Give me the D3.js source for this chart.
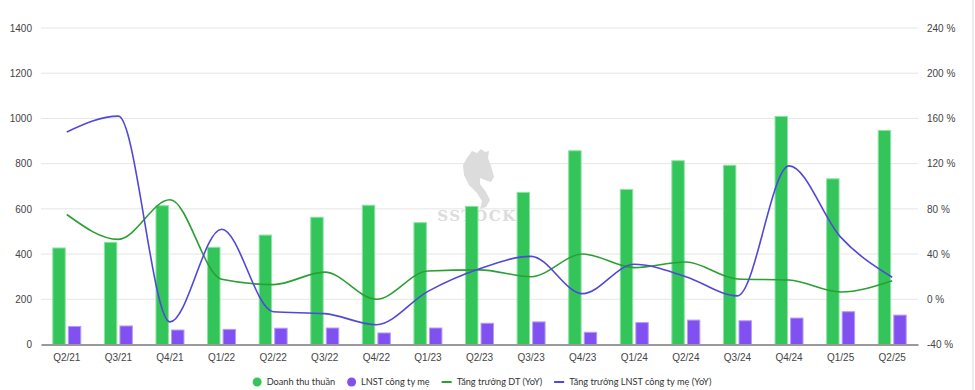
<!DOCTYPE html>
<html>
<head>
<meta charset="utf-8">
<script src="https://cdn.jsdelivr.net/npm/d3@7"></script>
<style>
  html, body { margin: 0; padding: 0; background: #fff; }
  svg { display: block; font-family: "Lato", "Noto Sans", sans-serif; }
</style>
</head>
<body>
<svg id="chart" width="975" height="390"></svg>
<script>
const categories = ["Q2/21","Q3/21","Q4/21","Q1/22","Q2/22","Q3/22","Q4/22","Q1/23","Q2/23","Q3/23","Q4/23","Q1/24","Q2/24","Q3/24","Q4/24","Q1/25","Q2/25"];
const revenue = [427, 452, 614, 430, 484, 563, 616, 539, 611, 673, 857, 686, 813, 793, 1009, 733, 947];
const profit = [80, 82, 64, 67, 72, 73, 51, 73, 94, 100, 54, 97, 108, 105, 117, 145, 130];
const revenueGrowth = [75, 53, 88, 17.7, 13, 24, 0, 25, 26, 20, 40, 28, 33, 18, 17, 6.5, 16.5];
const profitGrowth = [148, 162, -20, 62, -11, -12.7, -22.5, 7, 27, 38, 5, 31, 20, 3, 118, 55, 19.5];
const leftTicks = [0, 200, 400, 600, 800, 1000, 1200, 1400];
const rightTicks = [-40, 0, 40, 80, 120, 160, 200, 240];
const legendItems = [
  {label: "Doanh thu thuần", type: "dot", color: "#33c55a"},
  {label: "LNST công ty mẹ", type: "dot", color: "#8150f0"},
  {label: "Tăng trưởng DT (YoY)", type: "line", color: "#2a9f32"},
  {label: "Tăng trưởng LNST công ty mẹ (YoY)", type: "line", color: "#5148d8"}
];

const svg = d3.select("#chart");
const plotLeft = 41, plotRight = 918, plotTop = 28, plotBottom = 344.5;

const x0 = d3.scaleBand().domain(categories).range([plotLeft, plotRight]).paddingInner(0).paddingOuter(0);
const yL = d3.scaleLinear().domain([0, 1400]).range([plotBottom, plotTop]);
const yR = d3.scaleLinear().domain([-40, 240]).range([plotBottom, plotTop]);
const x1 = d3.scaleBand().domain(["rev", "prof"]).range([0, 28]).paddingInner(0.2);

// right border line
svg.append("line").attr("x1", 973).attr("x2", 973).attr("y1", 0).attr("y2", 390)
  .attr("stroke", "#ececf0").attr("stroke-width", 2);

// gridlines
svg.append("g").selectAll("line").data(leftTicks.filter(d => d > 0)).join("line")
  .attr("x1", plotLeft).attr("x2", plotRight)
  .attr("y1", d => yL(d)).attr("y2", d => yL(d))
  .attr("stroke", "#e6e6e6").attr("stroke-width", 1);

// left axis
const leftAxis = d3.axisLeft(yL).tickValues(leftTicks).tickSize(0).tickFormat(d3.format("d"));
const gl = svg.append("g").attr("transform", `translate(${plotLeft},0)`).call(leftAxis);
gl.select(".domain").remove();
gl.selectAll("text").attr("font-size", 10).attr("fill", "#444").attr("x", -9);

// right axis
const rightAxis = d3.axisRight(yR).tickValues(rightTicks).tickSize(0).tickFormat(d => d + " %");
const gr = svg.append("g").attr("transform", `translate(${plotRight},0)`).call(rightAxis);
gr.select(".domain").remove();
gr.selectAll("text").attr("font-size", 10).attr("fill", "#444").attr("x", 9);

// watermark
const wm = svg.append("g");
wm.append("path")
  .attr("d", "M467,158 L472,151 L477,153 L481,149 L485,152 L489,151 L488,158 L491,166 L494,177 L491,182 L485,180 L480,178 L480,184 L486,192 L490,200 L486,207 L480,209 L482,201 L477,193 L469,185 L464,175 L463,165 Z")
  .attr("fill", "#dcdcdc");
wm.append("text").attr("x", 477).attr("y", 221).attr("text-anchor", "middle")
  .attr("font-family", "'DejaVu Serif', serif").attr("font-weight", "bold")
  .attr("font-size", 15).attr("letter-spacing", 1.5).attr("fill", "#dcdcdc").text("SSTOCK");

// bars
const groups = svg.append("g").selectAll("g").data(categories).join("g")
  .attr("transform", d => `translate(${x0(d) + x0.bandwidth() / 2 - 14},0)`);
groups.append("rect")
  .attr("x", x1("rev")).attr("width", x1.bandwidth())
  .attr("y", (d, i) => yL(revenue[i])).attr("height", (d, i) => yL(0) - yL(revenue[i]))
  .attr("fill", "#33c55a").attr("stroke", "#8fe3a4").attr("stroke-width", 1);
groups.append("rect")
  .attr("x", x1("prof")).attr("width", x1.bandwidth())
  .attr("y", (d, i) => yL(profit[i])).attr("height", (d, i) => yL(0) - yL(profit[i]))
  .attr("fill", "#8150f0").attr("stroke", "#b79cf7").attr("stroke-width", 1);

// baseline axis
const bottomAxis = d3.axisBottom(x0).tickSize(0).tickPadding(9);
const gb = svg.append("g").attr("transform", `translate(0,${plotBottom})`).call(bottomAxis);
gb.select(".domain").attr("stroke", "#9a9a9a").attr("stroke-width", 2);
gb.selectAll("text").attr("font-size", 10).attr("fill", "#444");

// lines
const cx = d => x0(d) + x0.bandwidth() / 2;
const lineGen = d3.line().x((d, i) => cx(categories[i])).y(d => yR(d)).curve(d3.curveMonotoneX);
svg.append("path").datum(revenueGrowth).attr("d", lineGen)
  .attr("fill", "none").attr("stroke", "#2a9f32").attr("stroke-width", 1.6);
svg.append("path").datum(profitGrowth).attr("d", lineGen)
  .attr("fill", "none").attr("stroke", "#5148d8").attr("stroke-width", 1.6);

// legend
const legend = svg.append("g").attr("transform", "translate(0,382)");
let lx = 0;
legendItems.forEach((item, k) => {
  const g = legend.append("g").attr("transform", `translate(${lx},0)`);
  if (item.type === "dot") {
    g.append("circle").attr("cx", 4.5).attr("cy", 0).attr("r", 4.5).attr("fill", item.color);
  } else {
    g.append("line").attr("x1", 0).attr("x2", 10).attr("y1", 0).attr("y2", 0)
      .attr("stroke", item.color).attr("stroke-width", 2);
  }
  const tx = item.type === "dot" ? 14 : 15;
  const t = g.append("text").attr("x", tx).attr("y", 0).attr("dy", "0.35em")
    .attr("font-size", 9.2).attr("fill", "#333").text(item.label);
  const w = t.node().getComputedTextLength();
  lx += tx + w + (k < legendItems.length - 1 ? 12 : 0);
});
legend.attr("transform", `translate(${482 - lx / 2},382)`);
</script>
</body>
</html>
